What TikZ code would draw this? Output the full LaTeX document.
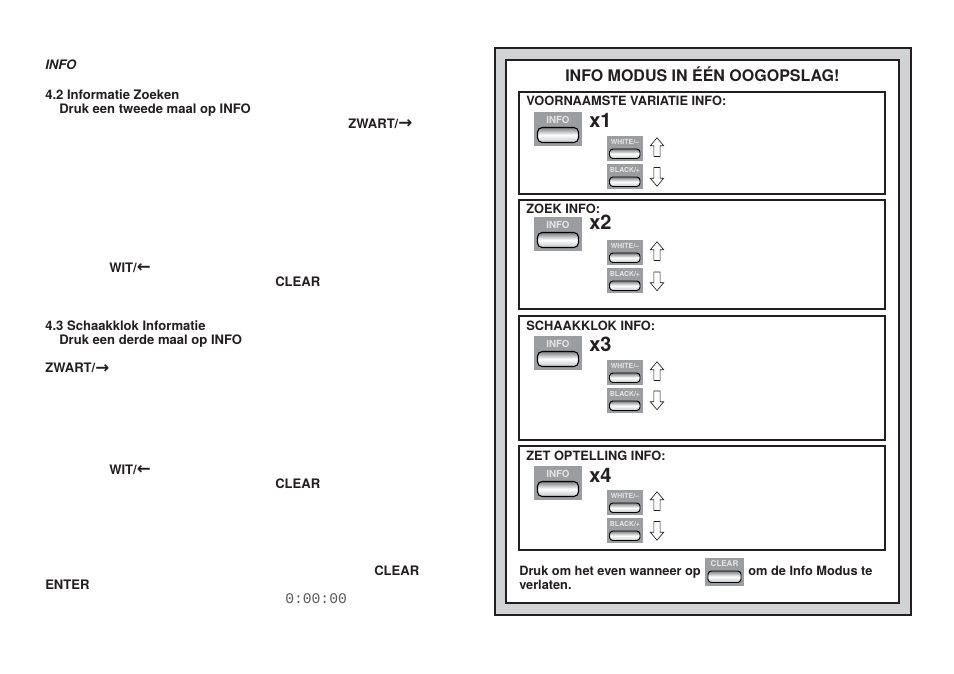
\documentclass[tikz,border=0pt]{standalone}
\usepackage{fontspec}
\setmainfont{TeX Gyre Heros}
\newfontfamily\symfont{DejaVu Sans}
\newfontfamily\lcdfont{Liberation Mono}
\usetikzlibrary{shapes.arrows}

\definecolor{panelgray}{HTML}{D0D2D3}
\definecolor{keygray}{HTML}{9B9DA0}
\definecolor{linedark}{HTML}{231F20}

\newcommand{\keyright}{{\symfont\bfseries\fontsize{12.5}{12}\selectfont\raisebox{-0.7pt}{\char"2192}}}
\newcommand{\keyleft}{{\symfont\bfseries\fontsize{12.5}{12}\selectfont\raisebox{-0.7pt}{\char"2190}}}

\tikzset{
    body/.style={anchor=base west,inner sep=0pt,font=\bfseries\fontsize{9.8}{11}\selectfont,text=linedark},
    head/.style={anchor=base west,inner sep=0pt,font=\bfseries\fontsize{9.6}{11}\selectfont,text=linedark},
    foot/.style={body,font=\bfseries\fontsize{9.6}{11}\selectfont},
    times/.style={anchor=base west,inner sep=0pt,font=\bfseries\fontsize{15}{17}\selectfont,text=linedark},
    section box/.style={draw=linedark,line width=1pt,fill=white},
    up arrow/.style={single arrow,draw=linedark,fill=white,line width=0.5pt,rotate=90,minimum height=14pt,minimum width=10pt,single arrow head extend=1.4pt,single arrow tip angle=80,inner sep=1pt},
    down arrow/.style={up arrow,rotate=180},
    big key/.pic={
        \fill[keygray] (0,0) rectangle (48,34);
        \node[text=white!90!black,font=\bfseries\fontsize{7.3}{8}\selectfont] (-label) at (24,7.5) {\tikzpictext};
        \shade[top color=keygray!80!black,bottom color=keygray!60,middle color=white,draw=black,line width=0.8pt,rounded corners=3.5pt] (3.5,15.5) rectangle (44.5,30.5);
    },
    small key/.pic={
        \fill[keygray] (0,0) rectangle (36,25);
        \node[text=white!90!black,font=\bfseries\fontsize{5.2}{6}\selectfont] (-label) at (18,6) {\tikzpictext};
        \shade[top color=keygray!80!black,bottom color=keygray!60,middle color=white,draw=black,line width=0.7pt,rounded corners=2.5pt] (2.5,13) rectangle (33,22.5);
    },
    clear key/.pic={
        \fill[keygray] (0,0) rectangle (39,28);
        \node[text=white!90!black,font=\bfseries\fontsize{6}{7}\selectfont] (-label) at (19.5,6) {\tikzpictext};
        \shade[top color=keygray!80!black,bottom color=keygray!60,middle color=white,draw=black,line width=0.7pt,rounded corners=2.5pt] (3,13) rectangle (36,24.5);
    },
}

\begin{document}
\begin{tikzpicture}[x=0.75pt,y=-0.75pt]

            \useasboundingbox (0,0) rectangle (954,674);

            % left page
            \node[body,font=\bfseries\itshape\fontsize{9.8}{11}\selectfont] (title) at (45,70) {INFO};
            \node[body] (zoek1) at (45,99) {4.2 Informatie Zoeken};
            \node[body] (zoek2) at (59,113.5) {Druk een tweede maal op INFO};
            \node[body] (zoek3) at (348,128) {ZWART/\keyright};
            \node[body] (zoek4) at (109,272) {WIT/\keyleft};
            \node[body] (zoek5) at (275,286) {CLEAR};
            \node[body] (klok1) at (45,330) {4.3 Schaakklok Informatie};
            \node[body] (klok2) at (59,344) {Druk een derde maal op INFO};
            \node[body] (klok3) at (45,372.5) {ZWART/\keyright};
            \node[body] (klok4) at (109,474) {WIT/\keyleft};
            \node[body] (klok5) at (275,488) {CLEAR};
            \node[body] (end1) at (374,575) {CLEAR};
            \node[body] (end2) at (45,589) {ENTER};
            \node[body,font=\lcdfont\fontsize{11}{11}\selectfont,text=black!65] (clock) at (285,603) {0:00:00};

            % right panel
            \draw[draw=linedark,line width=2pt,fill=panelgray] (495,48) rectangle (911,615);
            \draw[draw=linedark,line width=1pt,fill=white] (506,60) rectangle (899,603);
            \node[body,font=\bfseries\fontsize{12}{14}\selectfont] (panel) at (565,81.5) {INFO MODUS IN ÉÉN OOGOPSLAG!};

            \draw[section box] (519,92) rectangle (885,194);
            \draw[section box] (519,200) rectangle (885,309);
            \draw[section box] (519,316) rectangle (885,440);
            \draw[section box] (519,446) rectangle (885,550);

            \node[head] (head1) at (526,105.5) {VOORNAAMSTE VARIATIE INFO:};
            \node[head] (head2) at (526,213) {ZOEK INFO:};
            \node[head] (head3) at (526,330) {SCHAAKKLOK INFO:};
            \node[head] (head4) at (526,460) {ZET OPTELLING INFO:};

            \node[times] (x1) at (589,127.5) {x1};
            \node[times] (x2) at (589,229.5) {x2};
            \node[times] (x3) at (589,351.5) {x3};
            \node[times] (x4) at (589,482) {x4};

            \pic (info1) at (534,112) [pic text=INFO] {big key};
            \pic (info2) at (534,217) [pic text=INFO] {big key};
            \pic (info3) at (534,336) [pic text=INFO] {big key};
            \pic (info4) at (534,466) [pic text=INFO] {big key};

            \pic (white1) at (607,136) [pic text=WHITE/--] {small key};
            \pic (black1) at (607,164) [pic text=BLACK/+] {small key};
            \pic (white2) at (607,240) [pic text=WHITE/--] {small key};
            \pic (black2) at (607,268) [pic text=BLACK/+] {small key};
            \pic (white3) at (607,360) [pic text=WHITE/--] {small key};
            \pic (black3) at (607,388) [pic text=BLACK/+] {small key};
            \pic (white4) at (607,490) [pic text=WHITE/--] {small key};
            \pic (black4) at (607,518) [pic text=BLACK/+] {small key};

            \node[up arrow] (up1) at (657,149) {};
            \node[down arrow] (down1) at (657,175) {};
            \node[up arrow] (up2) at (657,253) {};
            \node[down arrow] (down2) at (657,279.5) {};
            \node[up arrow] (up3) at (657,373) {};
            \node[down arrow] (down3) at (657,398.5) {};
            \node[up arrow] (up4) at (657,503) {};
            \node[down arrow] (down4) at (657,529) {};

            \node[foot] (foot1) at (519,575.5) {Druk om het even wanneer op};
            \pic (clear) at (705,558) [pic text=CLEAR] {clear key};
            \node[foot] (foot2) at (748,575.5) {om de Info Modus te};
            \node[foot] (foot3) at (519,589.5) {verlaten.};

        \end{tikzpicture}
\end{document}
